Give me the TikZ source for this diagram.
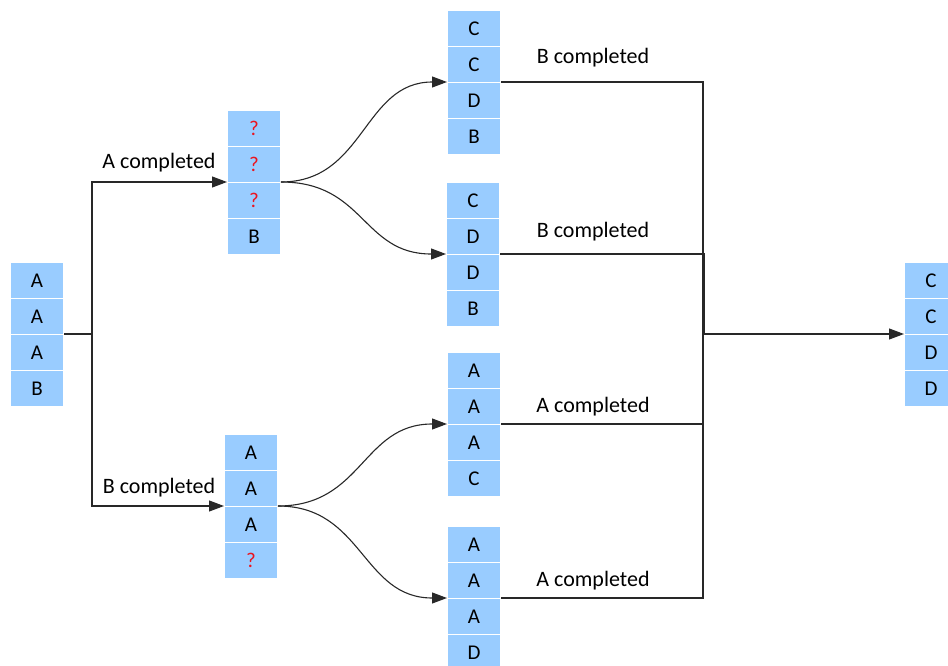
\documentclass[tikz,border=0pt]{standalone}
\usepackage{fontspec}
\setmainfont{Carlito}
\usetikzlibrary{arrows.meta}

\definecolor{cellblue}{RGB}{153,204,255}
\definecolor{linegray}{RGB}{40,40,40}
\definecolor{qred}{RGB}{235,20,30}

\tikzset{
  cell/.style={rectangle, anchor=north west, minimum width=53pt, minimum height=36pt,
    inner sep=0pt, fill=cellblue, draw=white, line width=1pt,
    font=\fontsize{21}{25}\selectfont},
  conn/.style={draw=linegray, line width=1.1pt},
  arr/.style={conn, -{Triangle[length=15pt,width=11pt]}},
  lbl/.style={font=\fontsize{22}{26}\selectfont, inner sep=0pt},
}

% a stack of four cells: name, x, y (top-left), four entries
\newcommand\cellstack[7]{%
  \node[cell] (#1-1) at (#2,#3) {#4};
  \node[cell] (#1-2) at (#2,#3+36) {#5};
  \node[cell] (#1-3) at (#2,#3+72) {#6};
  \node[cell] (#1-4) at (#2,#3+108) {#7};
}

\begin{document}
\begin{tikzpicture}[x=1pt, y=-1pt]
\useasboundingbox (0,0) rectangle (948,666);
\clip (0,0) rectangle (948,666);

% stacks
\cellstack{L}{10}{262}{A}{A}{A}{B}
\cellstack{U}{227}{110}{\textcolor{qred}{?}}{\textcolor{qred}{?}}{\textcolor{qred}{?}}{B}
\cellstack{D}{224}{434}{A}{A}{A}{\textcolor{qred}{?}}
\cellstack{Ra}{447}{10}{C}{C}{D}{B}
\cellstack{Rb}{446}{182}{C}{D}{D}{B}
\cellstack{Rc}{447}{352}{A}{A}{A}{C}
\cellstack{Rd}{447}{526}{A}{A}{A}{D}
\cellstack{F}{904}{262}{C}{C}{D}{D}

% split after the initial state
\coordinate (split) at (92,334);
\draw[conn] (L-3.north east) -- (split);
\draw[arr] (split) |- (U-3.north west);
\draw[arr] (split) |- (D-3.north west);
\node[lbl] (la) at (159,163) {A completed};
\node[lbl] (lb) at (159,488) {B completed};

% branches to the four outcomes
\draw[arr] (U-3.north east) .. controls +(84,0) and +(-84,0) .. (Ra-3.north west);
\draw[arr] (U-3.north east) .. controls +(84,0) and +(-84,0) .. (Rb-3.north west);
\draw[arr] (D-3.north east) .. controls +(85,0) and +(-85,0) .. (Rc-3.north west);
\draw[arr] (D-3.north east) .. controls +(85,0) and +(-85,0) .. (Rd-3.north west);

% merge into the final state
\coordinate (join) at (703,334);
\coordinate (joinb) at (704.5,334);
\draw[conn] (Ra-3.north east) -| (join);
\draw[conn] (Rb-3.north east) -| (joinb);
\draw[conn] (Rc-3.north east) -| (join);
\draw[conn] (Rd-3.north east) -| (join);
\draw[arr] (join) -- (F-3.north west);

\node[lbl] (ra) at (593,58) {B completed};
\node[lbl] (rb) at (593,232) {B completed};
\node[lbl] (rc) at (593,407) {A completed};
\node[lbl] (rd) at (593,581) {A completed};
\end{tikzpicture}
\end{document}
